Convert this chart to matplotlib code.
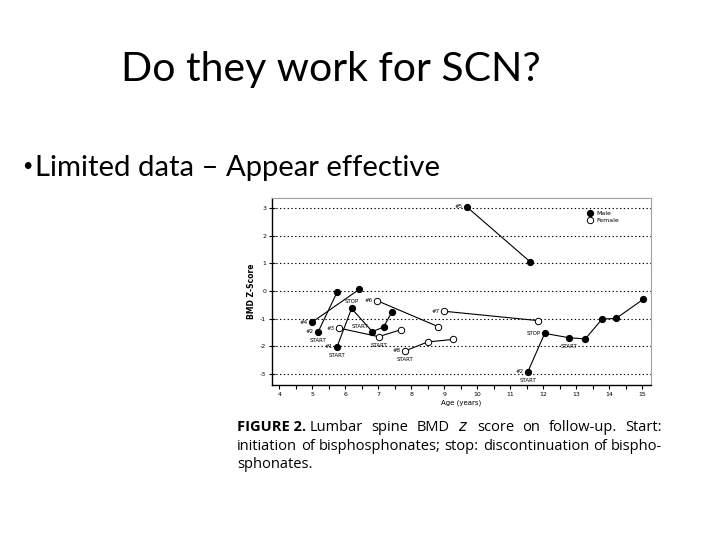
import matplotlib
matplotlib.use("Agg")
import matplotlib.pyplot as plt
from matplotlib.lines import Line2D

plt.rcParams["axes.unicode_minus"] = False

# ---- data (age in years, BMD z-score) ----
p4_age = [5.0, 6.42];  p4_z = [-1.12, 0.06]
p2_age = [5.18, 5.76]; p2_z = [-1.47, -0.02]
p1_age = [5.75, 6.19, 6.82, 7.16, 7.41]; p1_z = [-2.02, -0.63, -1.47, -1.30, -0.76]
p5_age = [9.68, 11.60]; p5_z = [3.05, 1.06]
p9_age = [11.53, 12.04, 12.78, 13.27, 13.78, 14.20, 15.02]
p9_z = [-2.92, -1.53, -1.69, -1.73, -1.01, -0.99, -0.30]
p3_age = [5.81, 7.01, 7.68]; p3_z = [-1.34, -1.65, -1.40]
p6_age = [6.97, 8.82]; p6_z = [-0.35, -1.29]
p7_age = [9.0, 11.85]; p7_z = [-0.73, -1.07]
p8_age = [7.82, 8.5, 9.26]; p8_z = [-2.16, -1.84, -1.75]

x_ticks = list(range(4, 16))
y_ticks = [-3, -2, -1, 0, 1, 2, 3]
legend_labels = ["Male", "Female"]

W, H = 720, 540
fig = plt.figure(figsize=(7.2, 5.4), dpi=100)
fig.patch.set_facecolor("white")

def fx(px):
    return px / W

def fy(py):
    return 1 - py / H

# slide texts
fig.text(fx(331), fy(81), "Do they work for SCN?", ha="center", va="baseline",
         fontsize=29.5, family="Lato")
fig.text(fx(22), fy(166), "•", ha="left", va="center", fontsize=13, family="Lato")
fig.text(fx(35), fy(176), "Limited data – Appear effective", ha="left", va="baseline",
         fontsize=21.1, family="Lato")

ax = fig.add_axes([fx(272.3), fy(385), (650.7 - 272.3) / W, (385 - 198.3) / H])

male_kw = dict(color="black", marker="o", markersize=4.2, markerfacecolor="black",
               markeredgecolor="black", linewidth=0.8)
female_kw = dict(color="black", marker="o", markersize=4.6, markerfacecolor="white",
                 markeredgecolor="black", markeredgewidth=0.7, linewidth=0.8)

for a, z in [(p4_age, p4_z), (p2_age, p2_z), (p1_age, p1_z), (p5_age, p5_z), (p9_age, p9_z)]:
    ax.plot(a, z, **male_kw, zorder=3)
for a, z in [(p3_age, p3_z), (p6_age, p6_z), (p7_age, p7_z), (p8_age, p8_z)]:
    ax.plot(a, z, **female_kw, zorder=3)

for y in y_ticks:
    ax.axhline(y, color="black", linestyle=(0, (1.2, 2.2)), linewidth=0.8, zorder=1)

ax.set_xlim(3.79, 15.25)
ax.set_ylim(-3.4, 3.36)
ax.set_xticks(x_ticks)
ax.set_xticks([v + 0.5 for v in x_ticks[:-1]], minor=True)
ax.set_yticks(y_ticks)
ax.tick_params(axis="both", labelsize=4.5, width=0.8, length=3, pad=2, direction="out")
ax.tick_params(axis="y", direction="inout", length=5)
ax.tick_params(axis="x", which="minor", length=3, width=0.8)
for s in ["top", "right"]:
    ax.spines[s].set_color("#a0a0a0")
    ax.spines[s].set_linewidth(0.8)
for s in ["left", "bottom"]:
    ax.spines[s].set_linewidth(1.0)

ax.set_xlabel("Age (years)", fontsize=5, labelpad=2)
ax.set_ylabel("BMD Z-Score", fontsize=5.5, fontweight="bold", labelpad=3)

fs = 4
def lab(txt, x, y, dx, dy, ha="right"):
    ax.annotate(txt, (x, y), xytext=(dx, dy), textcoords="offset points",
                ha=ha, va="center", fontsize=fs, zorder=4)

lab("#4", p4_age[0], p4_z[0], -3, 0)
lab("#2", p2_age[0], p2_z[0], -3, 0)
lab("START", p2_age[0], p2_z[0], 0, -6, "center")
lab("#1", p1_age[0], p1_z[0], -3, 0)
lab("START", p1_age[0], p1_z[0], 0, -6, "center")
lab("STOP", p1_age[1], p1_z[1], 0, 5, "center")
lab("START", p1_age[2], p1_z[2], -3, 4, "right")
lab("#3", p3_age[0], p3_z[0], -3, 0)
lab("START", p3_age[1], p3_z[1], 0, -6, "center")
lab("#6", p6_age[0], p6_z[0], -3, 0)
lab("#7", p7_age[0], p7_z[0], -3, 0)
lab("#8", p8_age[0], p8_z[0], -3, 0)
lab("START", p8_age[0], p8_z[0], 0, -6, "center")
lab("#5", p5_age[0], p5_z[0], -3, 0)
lab("#2", p9_age[0], p9_z[0], -3, 0)
lab("START", p9_age[0], p9_z[0], 0, -6, "center")
lab("STOP", p9_age[1], p9_z[1], -3, 0)
lab("START", p9_age[2], p9_z[2], 0, -6, "center")

handles = [Line2D([], [], linestyle="none", marker="o", markersize=4.2, color="black"),
           Line2D([], [], linestyle="none", marker="o", markersize=4.6,
                  markerfacecolor="white", markeredgecolor="black", markeredgewidth=0.7)]
ax.legend(handles, legend_labels, loc="upper left", bbox_to_anchor=(0.832, 0.935),
          frameon=False, fontsize=4.5, handletextpad=0.4, labelspacing=0.35,
          handlelength=1.0, borderpad=0, borderaxespad=0)

# caption (justified lines)
cap_fs = 10.5
renderer = fig.canvas.get_renderer()

def justify(words, x0, x1, ybase, **kw):
    texts = [fig.text(0, fy(ybase), w, ha="left", va="baseline", fontsize=cap_fs,
                      family="Open Sans", **kw) for w in words]
    widths = [t.get_window_extent(renderer).width for t in texts]
    gap = (x1 - x0 - sum(widths)) / max(len(words) - 1, 1)
    x = x0
    for t, w in zip(texts, widths):
        t.set_x(fx(x))
        x += w + gap

fig.text(fx(237), fy(431), "FIGURE 2.", ha="left", va="baseline", fontsize=cap_fs,
         fontweight="bold", family="Open Sans")
justify(["Lumbar", "spine", "BMD", "$z$", "score", "on", "follow-up.", "Start:"],
        310, 662, 431)
justify(["initiation", "of", "bisphosphonates;", "stop:", "discontinuation", "of", "bispho-"],
        237, 662, 450)
fig.text(fx(237), fy(468), "sphonates.", ha="left", va="baseline", fontsize=cap_fs,
         family="Open Sans")

fig.savefig("out.png", dpi=100, facecolor="white")
